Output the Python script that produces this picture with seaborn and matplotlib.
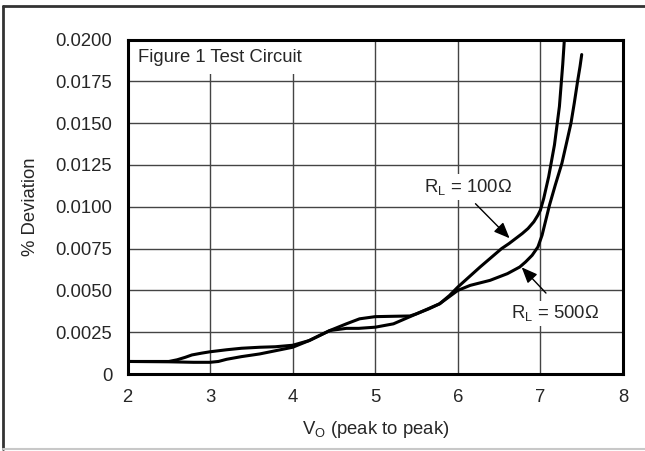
import numpy as np
import pandas as pd
import matplotlib
matplotlib.use('Agg')
import matplotlib.pyplot as plt
from matplotlib.lines import Line2D
import seaborn as sns

# Curve readings (Vo peak to peak vs % deviation)
vo_100 = [2.0, 2.5, 2.6, 2.7, 2.78, 2.9, 3.0, 3.2, 3.38, 3.6, 3.79, 4.0, 4.2, 4.45, 4.65,
          4.81, 5.0, 5.2, 5.42, 5.5, 5.65, 5.78, 5.9, 6.0, 6.27, 6.53, 6.62, 6.7, 6.78,
          6.85, 6.92, 6.97, 7.0, 7.04, 7.1, 7.17, 7.23, 7.27, 7.29]
dev_100 = [0.00075, 0.00075, 0.00085, 0.0010, 0.00114, 0.00125, 0.00133, 0.00145, 0.00154,
           0.0016, 0.00163, 0.00172, 0.0020, 0.0026, 0.0030, 0.0033, 0.00343, 0.00345,
           0.00347, 0.0036, 0.0039, 0.0042, 0.0047, 0.0052, 0.0064, 0.0075, 0.0078,
           0.0081, 0.0084, 0.0087, 0.0091, 0.0095, 0.0098, 0.0105, 0.0118, 0.0137,
           0.0160, 0.0185, 0.0200]

vo_500 = [2.0, 2.5, 2.8, 3.0, 3.1, 3.2, 3.38, 3.6, 3.79, 4.0, 4.2, 4.45, 4.65, 4.8, 5.0,
          5.22, 5.5, 5.78, 6.0, 6.15, 6.39, 6.6, 6.75, 6.82, 6.9, 6.97, 7.02, 7.06, 7.11,
          7.18, 7.26, 7.32, 7.37, 7.41, 7.45, 7.48, 7.50]
dev_500 = [0.00075, 0.00073, 0.0007, 0.0007, 0.00075, 0.00088, 0.00104, 0.0012, 0.00139,
           0.0016, 0.0020, 0.0026, 0.00273, 0.00273, 0.0028, 0.0030, 0.0036, 0.0042,
           0.0050, 0.0053, 0.0056, 0.0060, 0.0064, 0.0067, 0.0071, 0.0076, 0.0083,
           0.0091, 0.0101, 0.0113, 0.0126, 0.0139, 0.0150, 0.0162, 0.0175, 0.0184, 0.0191]

x_ticks = [2, 3, 4, 5, 6, 7, 8]
y_ticks = [0, 0.0025, 0.005, 0.0075, 0.01, 0.0125, 0.015, 0.0175, 0.02]
y_tick_labels = ['0', '0.0025', '0.0050', '0.0075', '0.0100', '0.0125', '0.0150', '0.0175', '0.0200']

curves = pd.concat([
    pd.DataFrame({'vo': vo_100, 'dev': dev_100, 'load': '100'}),
    pd.DataFrame({'vo': vo_500, 'dev': dev_500, 'load': '500'}),
])

sns.set_style('white')
plt.rcParams['font.family'] = ['Liberation Sans', 'DejaVu Sans']
plt.rcParams['mathtext.fontset'] = 'custom'
plt.rcParams['mathtext.rm'] = 'Liberation Sans'
plt.rcParams['mathtext.default'] = 'regular'

fs = 13.3
fig = plt.figure(figsize=(6.45, 4.51), dpi=100)
ax = fig.add_axes([0.1977, 0.1707, 0.7682, 0.7417])

for load, grp in curves.groupby('load'):
    sns.lineplot(data=grp, x='vo', y='dev', ax=ax, color='black', linewidth=2.2,
                 sort=False, estimator=None, legend=False, zorder=2)

ax.set_xlim(2, 8)
ax.set_ylim(0, 0.02)
ax.set_xticks(x_ticks)
ax.set_xticklabels([str(t) for t in x_ticks], fontsize=fs)
ax.set_yticks(y_ticks)
ax.set_yticklabels(y_tick_labels, fontsize=fs)
ax.tick_params(length=0, pad=11)
ax.set_axisbelow(True)
ax.grid(True, color='#444444', linewidth=1.0)
for sp in ax.spines.values():
    sp.set_linewidth(2.2)
    sp.set_color('black')
    sp.set_zorder(3)

ax.set_xlabel('V$_O$ (peak to peak)', fontsize=fs)
ax.set_ylabel('% Deviation', fontsize=fs)
ax.xaxis.set_label_coords(0.5, -0.135)
ax.yaxis.set_label_coords(-0.178, 0.5)

ax.text(0.021, 0.945, 'Figure 1 Test Circuit', transform=ax.transAxes, fontsize=fs,
        ha='left', va='center', zorder=2.4,
        bbox=dict(boxstyle='square,pad=0.4', facecolor='white', edgecolor='none'))

ax.text(6.13, 0.01118, 'R$_L$ = 100Ω', fontsize=fs, ha='center', va='center', zorder=2.4,
        bbox=dict(boxstyle='square,pad=0.15', facecolor='white', edgecolor='none'))
ax.annotate('', xy=(6.65, 0.0080), xytext=(6.19, 0.0103), zorder=2.5,
            arrowprops=dict(arrowstyle='-|>,head_length=0.6,head_width=0.25',
                            color='black', lw=1, mutation_scale=16))

ax.text(7.18, 0.00363, 'R$_L$ = 500Ω', fontsize=fs, ha='center', va='center', zorder=2.4,
        bbox=dict(boxstyle='square,pad=0.15', facecolor='white', edgecolor='none'))
ax.annotate('', xy=(6.75, 0.0065), xytext=(7.09, 0.00472), zorder=2.5,
            arrowprops=dict(arrowstyle='-|>,head_length=0.6,head_width=0.25',
                            color='black', lw=1, mutation_scale=16))

# outer frame of the figure
fig.add_artist(Line2D([0.0042, 1.0], [0.9867, 0.9867], color='#333333', lw=2))
fig.add_artist(Line2D([0.0042, 0.0042], [0.0044, 0.9867], color='#333333', lw=2))
fig.add_artist(Line2D([0.0042, 1.0], [0.0044, 0.0044], color='#c8c8c8', lw=1.5))

fig.savefig('out.png', dpi=100)
